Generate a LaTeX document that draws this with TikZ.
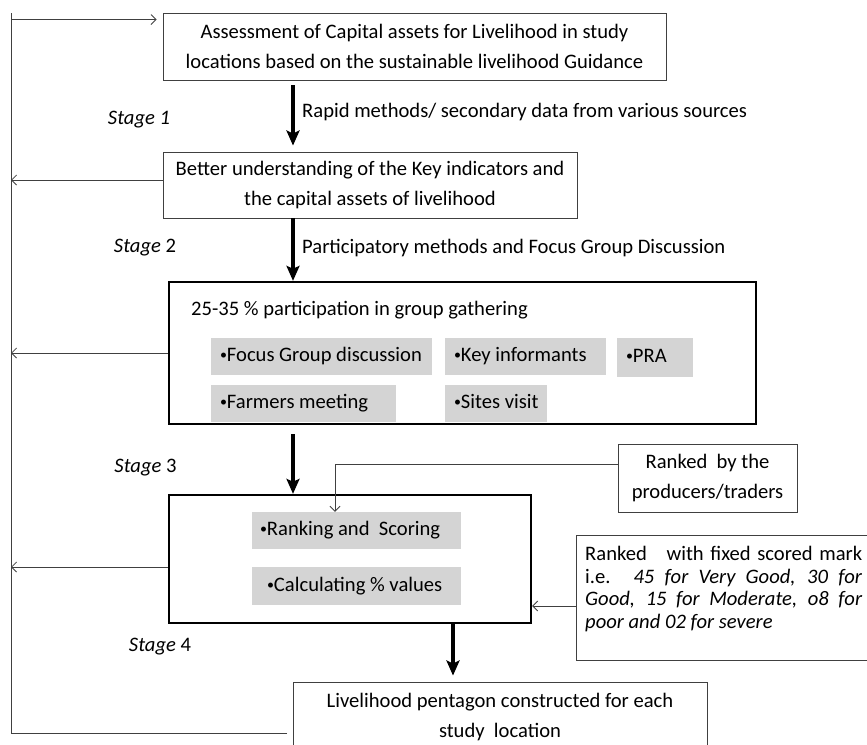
\documentclass[tikz,border=0pt]{standalone}
\usepackage{fontspec}
\setmainfont{Carlito}
\usetikzlibrary{arrows.meta}
\definecolor{edge}{gray}{0.25}
\definecolor{fillg}{gray}{0.83}
\newcommand{\smallbul}{\raisebox{2pt}{\fontsize{14}{14}\selectfont•}}
\begin{document}
\begin{tikzpicture}[x=1pt,y=-1pt,
  every node/.style={font=\fontsize{20.6}{30}\selectfont, inner sep=0pt},
  thinbox/.style={draw=edge, line width=0.9pt, align=center},
  thickbox/.style={draw=black, line width=2.3pt},
  gbox/.style={fill=fillg, inner xsep=9pt, inner ysep=0pt, text height=14pt, text depth=4pt},
  bigarrow/.style={line width=3.4pt, -{Stealth[length=15pt,width=13pt,inset=3pt]}},
  thinline/.style={draw=edge, line width=0.8pt},
  thinarrow/.style={thinline, -{Straight Barb[length=5pt,width=10pt]}},
  stagelbl/.style={anchor=center}
]
\useasboundingbox (0,0) rectangle (867,744);

% main boxes
\node[thinbox, minimum width=503pt, minimum height=67pt] (b1) at (414.5,46.5)
  {Assessment of Capital assets for Livelihood in study\\locations based on the sustainable livelihood Guidance};
\node[thinbox, minimum width=414pt, minimum height=66pt] (b2) at (370,185)
  {Better understanding of the Key indicators and\\the capital assets of livelihood};
\node[thickbox, minimum width=587pt, minimum height=142pt] (b3) at (462.5,353) {};
\node[thickbox, minimum width=362pt, minimum height=128pt] (b4) at (350,559) {};
\node[thinbox, minimum width=414pt, minimum height=70pt] (b5) at (500,717)
  {Livelihood pentagon constructed for each\\study\ \ location};

% box 3 content
\node[anchor=west] (b3t) at (191,310) {25-35 \% participation in group gathering};
\node[gbox, minimum height=37pt] (g1) at (321.5,356.5) {\makebox[203pt][l]{\smallbul Focus Group discussion}};
\node[gbox, minimum height=37pt] (g2) at (525.5,356.5) {\makebox[143pt][l]{\smallbul Key informants}};
\node[gbox, minimum height=39pt] (g3) at (655,357.5) {\makebox[58pt][l]{\smallbul PRA}};
\node[gbox, minimum height=37pt] (g4) at (303.5,403.5) {\makebox[167pt][l]{\smallbul Farmers meeting}};
\node[gbox, minimum height=37pt] (g5) at (496,403.5) {\makebox[84pt][l]{\smallbul Sites visit}};

% box 4 content
\node[gbox, inner xsep=8pt, minimum height=37pt] (g6) at (356.5,530.5) {\makebox[193pt][l]{\smallbul Ranking and\ \ Scoring}};
\node[gbox, inner xsep=15pt, minimum height=38pt] (g7) at (356.5,586) {\makebox[179pt][l]{\smallbul Calculating \% values}};

% side boxes
\node[thinbox, minimum width=179pt, minimum height=68pt] (r1) at (707.5,478)
  {Ranked\ \ by the\\producers/traders};
\node[thinbox, minimum width=304pt, minimum height=125pt] (r2) at (728,597.5) {};
\node[anchor=north west, align=left, font=\fontsize{20.6}{22.5}\selectfont] (r2t) at (585,546)
  {\makebox[277pt][s]{Ranked\ \ \ with fixed scored mark}\\
   \makebox[277pt][s]{i.e. \textit{45 for Very Good, 30 for}}\\
   \makebox[277pt][s]{\textit{Good, 15 for Moderate, o8 for}}\\
   \textit{poor and 02 for severe}};

% stage labels
\node[stagelbl] (s1) at (139,120) {\textit{Stage 1}};
\node[stagelbl] (s2) at (145,248) {\textit{Stage} 2};
\node[stagelbl] (s3) at (145.5,468) {\textit{Stage} 3};
\node[stagelbl] (s4) at (160,647) {\textit{Stage} 4};

% arrow labels
\node[anchor=west] (l1) at (302,112) {Rapid methods/ secondary data from various sources};
\node[anchor=west] (l2) at (302,248) {Participatory methods and Focus Group Discussion};

% vertical flow arrows
\coordinate (cx) at (293,0);
\coordinate (dx) at (453,0);
\draw[bigarrow, shorten <=5pt, shorten >=6pt] (b1.south -| cx) -- (b2.north -| cx);
\draw[bigarrow] (b2.south -| cx) -- (b3.north -| cx);
\draw[bigarrow, shorten <=9pt] (b3.south -| cx) -- (b4.north -| cx);
\draw[bigarrow, shorten >=6pt] (b4.south -| dx) -- (b5.north -| dx);

% feedback loop
\coordinate (lx) at (11,0);
\coordinate (lb) at (287,733);
\draw[thinarrow] (lb) -| (lx |- b1.north) ++(0,7) -- ([shift={(-6,7)}]b1.north west);
\draw[thinarrow] ([shift={(0,-5)}]b2.west) -- ([shift={(0,-5)}]b2.west -| lx);
\draw[thinarrow] (b3.west) -- (b3.west -| lx);
\draw[thinarrow] ([shift={(0,8)}]b4.west) -- ([shift={(0,8)}]b4.west -| lx);

% side connectors
\coordinate (rx) at (335,0);
\draw[thinarrow] ([shift={(0,-14)}]r1.west) -| (g6.north -| rx);
\coordinate (r2a) at ([shift={(0,8.5)}]r2.west);
\draw[thinarrow] (r2a) -- (r2a -| b4.east);
\end{tikzpicture}
\end{document}
